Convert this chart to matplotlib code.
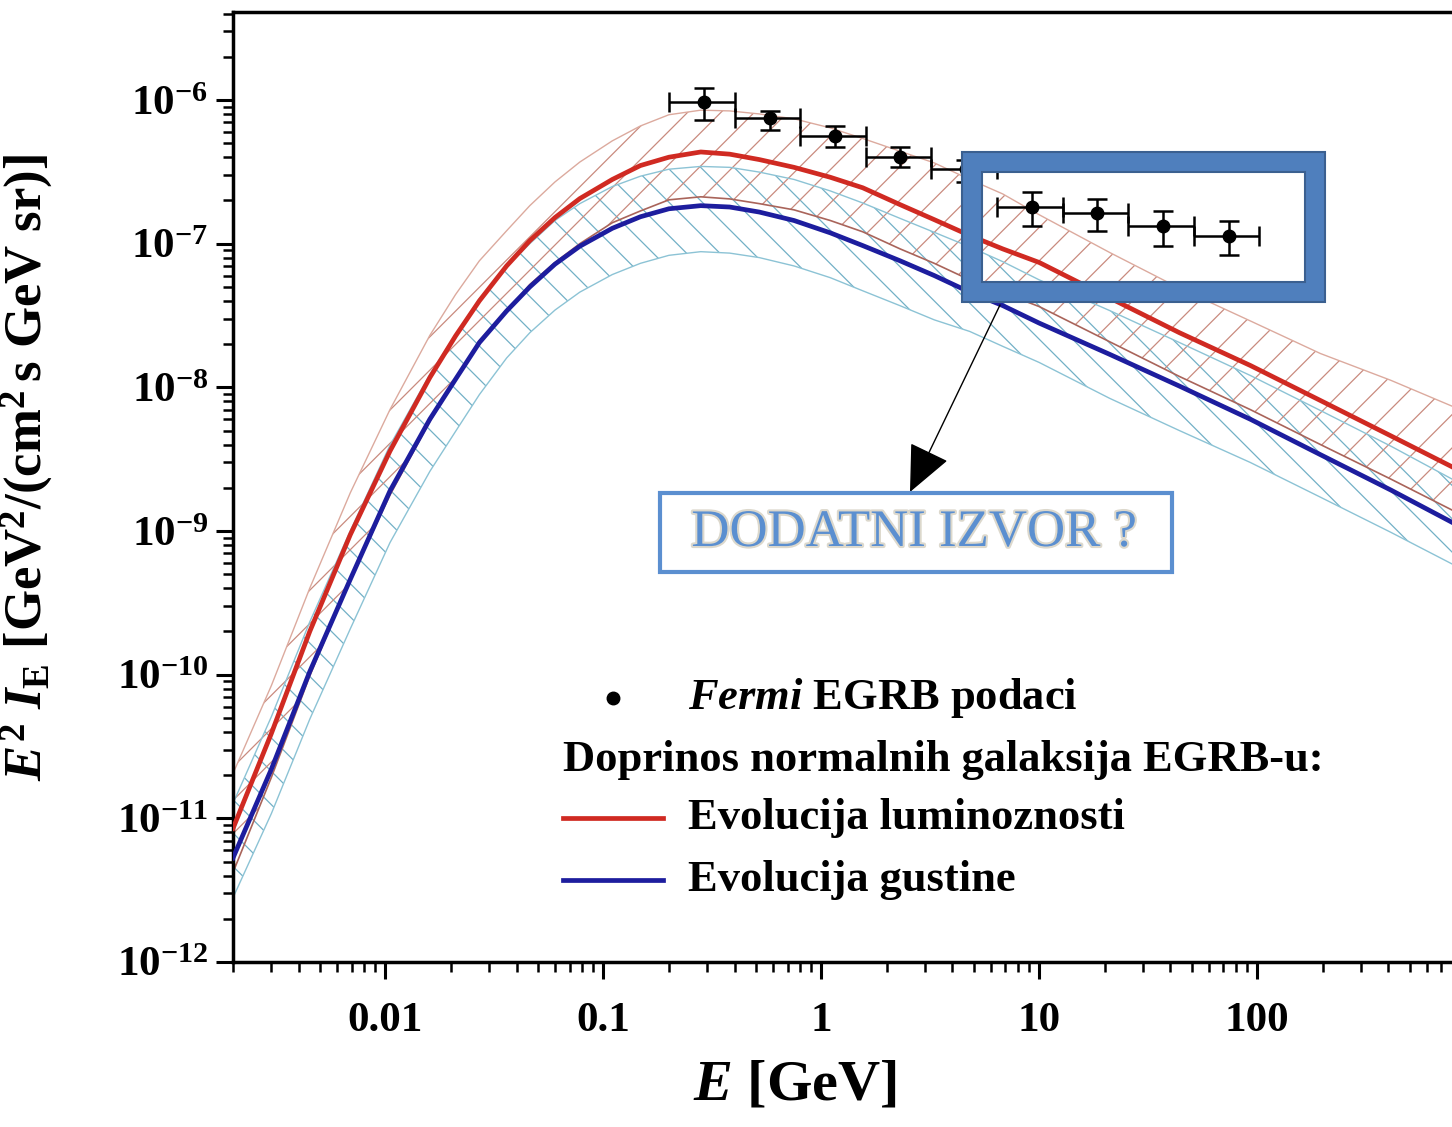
import numpy as np
import matplotlib
matplotlib.use('Agg')
import matplotlib.pyplot as plt
from matplotlib.patches import Rectangle
import matplotlib.patheffects as pe
from matplotlib.ticker import LogLocator, FuncFormatter, NullFormatter

plt.rcParams['font.family'] = 'Liberation Serif'
plt.rcParams['font.weight'] = 'bold'
plt.rcParams['mathtext.fontset'] = 'custom'
plt.rcParams['mathtext.rm'] = 'Liberation Serif:bold'
plt.rcParams['mathtext.bf'] = 'Liberation Serif:bold'
plt.rcParams['mathtext.it'] = 'Liberation Serif:bold:italic'
plt.rcParams['hatch.linewidth'] = 0.9

# energy grid (GeV) the model curves were read at
energy = [0.002, 0.003, 0.0045, 0.0069, 0.0105, 0.016, 0.021, 0.027, 0.036, 0.046, 0.06, 0.078,
          0.11, 0.148, 0.2, 0.28, 0.38, 0.52, 0.75, 1.1, 1.55, 2.3,
          3.3, 4.8, 6.8, 10, 21, 44, 93, 195, 410, 783]

# luminosity evolution (red) and its band
lum = [8.5e-12, 3.9e-11, 2.0e-10, 9.4e-10, 3.6e-9, 1.17e-8, 2.28e-8, 4.0e-8, 7.0e-8, 1.05e-7, 1.52e-7, 2.06e-7,
       2.8e-7, 3.5e-7, 4.0e-7, 4.35e-7, 4.2e-7, 3.85e-7, 3.4e-7, 2.9e-7, 2.45e-7, 1.87e-7,
       1.47e-7, 1.14e-7, 9.2e-8, 7.4e-8, 4.2e-8, 2.4e-8, 1.42e-8, 8.1e-9, 4.6e-9, 2.8e-9]
lum_hi = [2.05e-11, 8.4e-11, 4.0e-10, 1.84e-9, 7.0e-9, 2.3e-8, 4.43e-8, 7.6e-8, 1.23e-7, 1.84e-7, 2.69e-7, 3.7e-7,
          5.2e-7, 6.6e-7, 7.9e-7, 8.5e-7, 8.4e-7, 8.0e-7, 7.4e-7, 6.4e-7, 5.4e-7, 4.4e-7,
          3.65e-7, 2.8e-7, 2.22e-7, 1.59e-7, 8.7e-8, 4.9e-8, 2.9e-8, 1.72e-8, 1.12e-8, 7.4e-9]
lum_lo = [4.2e-12, 1.93e-11, 9.8e-11, 4.6e-10, 1.78e-9, 5.8e-9, 1.12e-8, 2.12e-8, 3.37e-8, 5.2e-8, 7.4e-8, 1.0e-7,
          1.4e-7, 1.69e-7, 2.02e-7, 2.12e-7, 2.05e-7, 1.9e-7, 1.72e-7, 1.45e-7, 1.21e-7, 9.2e-8,
          7.3e-8, 5.6e-8, 4.57e-8, 3.65e-8, 2.08e-8, 1.19e-8, 7.0e-9, 4.0e-9, 2.3e-9, 1.4e-9]

# density evolution (blue) and its band
dens = [5.3e-12, 2.2e-11, 1.05e-10, 4.6e-10, 1.9e-9, 6.0e-9, 1.14e-8, 2.05e-8, 3.4e-8, 5.0e-8, 7.2e-8, 9.6e-8,
        1.28e-7, 1.54e-7, 1.75e-7, 1.84e-7, 1.8e-7, 1.66e-7, 1.45e-7, 1.19e-7, 9.7e-8, 7.6e-8,
        6.0e-8, 4.6e-8, 3.71e-8, 2.8e-8, 1.7e-8, 1.02e-8, 6.0e-9, 3.4e-9, 1.93e-9, 1.15e-9]
dens_hi = [1.27e-11, 5.1e-11, 2.33e-10, 1.0e-9, 3.95e-9, 1.23e-8, 2.33e-8, 4.15e-8, 6.9e-8, 1.0e-7, 1.45e-7, 1.9e-7,
           2.5e-7, 2.95e-7, 3.3e-7, 3.45e-7, 3.4e-7, 3.15e-7, 2.8e-7, 2.33e-7, 1.92e-7, 1.5e-7,
           1.2e-7, 9.5e-8, 7.5e-8, 5.6e-8, 3.43e-8, 2.05e-8, 1.21e-8, 6.9e-9, 3.9e-9, 2.3e-9]
dens_lo = [2.8e-12, 1.08e-11, 4.9e-11, 2.08e-10, 8.3e-10, 2.6e-9, 4.94e-9, 8.9e-9, 1.6e-8, 2.4e-8, 3.45e-8, 4.6e-8,
           6.1e-8, 7.3e-8, 8.3e-8, 8.8e-8, 8.6e-8, 8.0e-8, 7.0e-8, 5.8e-8, 4.7e-8, 3.7e-8,
           2.95e-8, 2.45e-8, 1.93e-8, 1.49e-8, 8.4e-9, 5.0e-9, 3.0e-9, 1.72e-9, 9.8e-10, 5.9e-10]

# Fermi EGRB points
fermi_e = [0.29, 0.58, 1.15, 2.3, 4.6, 9.3, 18.5, 37, 74]
fermi_emin = [0.2, 0.4, 0.8, 1.6, 3.2, 6.4, 12.8, 25.6, 51.2]
fermi_emax = [0.4, 0.8, 1.6, 3.2, 6.4, 12.8, 25.6, 51.2, 102.4]
fermi_flux = [9.7e-7, 7.5e-7, 5.6e-7, 4.0e-7, 3.3e-7, 1.8e-7, 1.64e-7, 1.33e-7, 1.14e-7]
fermi_hi = [1.21e-6, 8.4e-7, 6.6e-7, 4.7e-7, 3.8e-7, 2.3e-7, 2.05e-7, 1.7e-7, 1.45e-7]
fermi_lo = [7.3e-7, 6.2e-7, 4.7e-7, 3.4e-7, 2.7e-7, 1.33e-7, 1.23e-7, 9.7e-8, 8.4e-8]

W, H = 1452, 1127
RED = '#d02a22'
BLUE = '#1d1d9e'


def fx(px):
	return px / W


def fy(py):
	return (H - py) / H


fig = plt.figure(figsize=(W / 100, H / 100), dpi=100)
ax = fig.add_axes([fx(233), fy(962), (W - 233) / W, (962 - 12) / H])

# bands
ax.fill_between(energy, dens_lo, dens_hi, facecolor='none', edgecolor='#72b0c6', hatch='\\', linewidth=0, zorder=1)
ax.fill_between(energy, lum_lo, lum_hi, facecolor='none', edgecolor='#c98a7e', hatch='/', linewidth=0, zorder=1.5)
ax.plot(energy, dens_hi, color='#8cc3d5', lw=1.0, zorder=2)
ax.plot(energy, dens_lo, color='#8cc3d5', lw=1.0, zorder=2)
ax.plot(energy, lum_hi, color='#dcaa9e', lw=1.0, zorder=2)
ax.plot(energy, lum_lo, color='#a9645a', lw=1.2, zorder=2)

ax.plot(energy, lum, color=RED, lw=3.4, zorder=3)
ax.plot(energy, dens, color=BLUE, lw=3.4, zorder=3)

e = np.array(fermi_e)
f = np.array(fermi_flux)
ax.errorbar(e, f, xerr=[e - np.array(fermi_emin), np.array(fermi_emax) - e],
			yerr=[f - np.array(fermi_lo), np.array(fermi_hi) - f],
			fmt='o', color='black', ms=9, elinewidth=1.8, capsize=7, capthick=1.8, zorder=5)

ax.set_xscale('log')
ax.set_yscale('log')
ax.set_xlim(0.002, 783)
ax.set_ylim(1e-12, 4.1e-6)

ax.set_xticks([0.01, 0.1, 1, 10, 100], ['0.01', '0.1', '1', '10', '100'])
ax.xaxis.set_minor_locator(LogLocator(base=10, subs=np.arange(2, 10), numticks=50))
ax.xaxis.set_minor_formatter(NullFormatter())
ax.set_yticks([1e-12, 1e-11, 1e-10, 1e-9, 1e-8, 1e-7, 1e-6])
ax.yaxis.set_major_formatter(FuncFormatter(lambda v, p: r'$\mathbf{10^{%d}}$' % round(np.log10(v))))
ax.yaxis.set_minor_locator(LogLocator(base=10, subs=np.arange(2, 10), numticks=50))
ax.yaxis.set_minor_formatter(NullFormatter())

ax.tick_params(which='major', direction='out', length=12, width=2.2, labelsize=31)
ax.tick_params(which='minor', direction='out', length=7, width=1.8)
ax.tick_params(axis='x', pad=17)
ax.tick_params(axis='y', pad=6)
for s in ['left', 'bottom', 'top']:
	ax.spines[s].set_linewidth(2.5)
ax.spines['right'].set_visible(False)

ax.set_xlabel(r'$\mathit{E}$ [GeV]', fontsize=42, fontweight='bold')
ax.xaxis.set_label_coords(0.461, -0.103)
ax.set_ylabel(r'$\mathit{E}^{2}\ \mathit{I}_{\mathrm{E}}\ \mathrm{[GeV^{2}/(cm^{2}\,s\ GeV\ sr)]}$', fontsize=38)
ax.yaxis.set_label_coords(-0.146, 0.52)

# legend, drawn by hand
ax.plot([0.3117], [0.2779], 'o', color='black', ms=9, transform=ax.transAxes)
ax.text(0.3733, 0.2779, r'$\mathit{Fermi}$ EGRB podaci', transform=ax.transAxes, va='center', fontsize=32)
ax.text(0.2707, 0.2126, 'Doprinos normalnih galaksija EGRB-u:', transform=ax.transAxes, va='center', fontsize=32)
ax.plot([0.2707, 0.3527], [0.1516, 0.1516], color=RED, lw=3.4, transform=ax.transAxes)
ax.text(0.3733, 0.1516, 'Evolucija luminoznosti', transform=ax.transAxes, va='center', fontsize=32)
ax.plot([0.2707, 0.3527], [0.0863, 0.0863], color=BLUE, lw=3.4, transform=ax.transAxes)
ax.text(0.3733, 0.0863, 'Evolucija gustine', transform=ax.transAxes, va='center', fontsize=32)

# thick blue frame around the high energy points
fig.add_artist(Rectangle((fx(972), fy(292)), (1315 - 972) / W, (292 - 162) / H, transform=fig.transFigure,
						 facecolor='none', edgecolor='#4f7fbd', lw=14.4, zorder=10))
fig.add_artist(Rectangle((fx(962), fy(302)), (1325 - 962) / W, (302 - 152) / H, transform=fig.transFigure,
						 facecolor='none', edgecolor='#3b6090', lw=1.5, zorder=11))
fig.add_artist(Rectangle((fx(982), fy(282)), (1305 - 982) / W, (282 - 172) / H, transform=fig.transFigure,
						 facecolor='none', edgecolor='#3b6090', lw=1.5, zorder=11))

ax.annotate('', xy=(910, H - 492), xycoords='figure pixels', xytext=(1000, H - 305), textcoords='figure pixels',
			arrowprops=dict(arrowstyle='-|>,head_length=1.0,head_width=0.45', color='black', lw=1.0,
							mutation_scale=30, shrinkA=0, shrinkB=0))

fig.add_artist(Rectangle((fx(660), fy(572)), (1172 - 660) / W, (572 - 493) / H, transform=fig.transFigure,
						 facecolor='white', edgecolor='#5b8fd0', lw=3, zorder=10))
fig.text(fx(914), fy(533), 'DODATNI IZVOR ?', ha='center', va='center', fontsize=38, fontweight='normal',
		 color='#5b8fd0', zorder=12,
		 path_effects=[pe.withStroke(linewidth=3, foreground='#dcd8cc')])

plt.savefig('out.png', dpi=100)
plt.close('all')
